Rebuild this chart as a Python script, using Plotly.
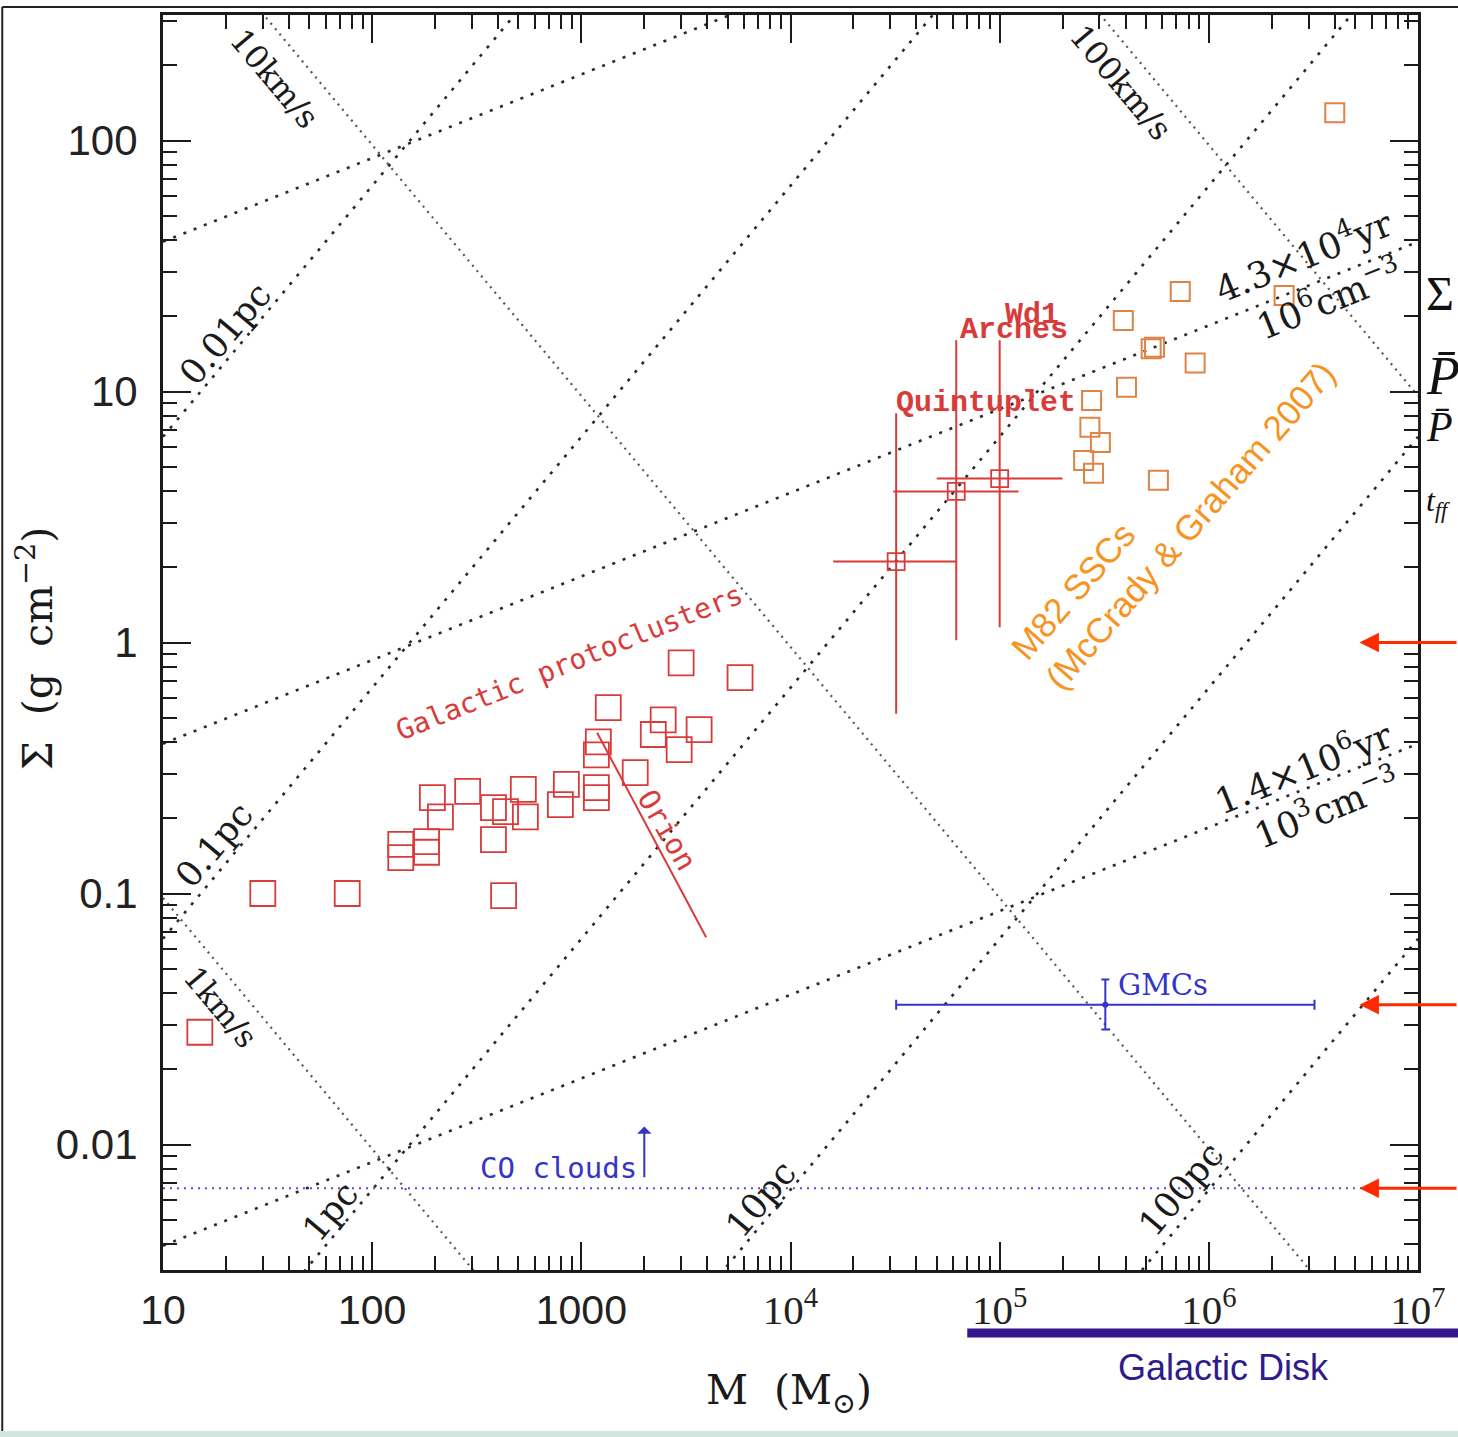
import math
import plotly.graph_objects as go

# ---------------- data ----------------
# Galactic protoclusters: mass (Msun) and mean surface density (g cm^-2)
proto_mass = [15, 30, 76, 425, 137, 137, 182, 182, 194, 212, 286, 380, 380, 434,
              528, 540, 794, 848, 1180, 1180, 1180, 1206, 1345, 1810, 2208, 2462,
              2936, 3657, 3000, 5740]
proto_sigma = [0.028, 0.10, 0.10, 0.098, 0.157, 0.139, 0.161, 0.146, 0.241, 0.202,
               0.255, 0.164, 0.220, 0.212, 0.260, 0.202, 0.226, 0.272, 0.264, 0.241,
               0.357, 0.402, 0.550, 0.303, 0.430, 0.492, 0.374, 0.450, 0.830, 0.724]

# Massive young clusters with their mass / surface-density ranges
yc_names = ["Quintuplet", "Arches", "Wd1"]
yc_mass = [3.2e4, 6.2e4, 1.0e5]
yc_mass_low = [1.6e4, 3.1e4, 5.0e4]
yc_mass_high = [6.2e4, 1.23e5, 2.0e5]
yc_sigma = [2.1, 4.0, 4.5]
yc_sigma_low = [0.52, 1.02, 1.15]
yc_sigma_high = [8.2, 16.0, 16.0]

# M82 super star clusters
m82_mass = [4.0e6, 7.3e5, 3.9e5, 2.29e6, 5.3e5, 5.5e5, 8.6e5, 4.04e5, 2.75e5,
            2.7e5, 3.03e5, 2.52e5, 2.81e5, 5.74e5]
m82_sigma = [129, 25, 19.2, 24.1, 14.8, 15.0, 13.0, 10.4, 9.2, 7.2, 6.27, 5.31,
             4.72, 4.43]

# Giant molecular clouds (typical value and range)
gmc_mass = [3.2e5]
gmc_mass_low = [3.2e4]
gmc_mass_high = [3.2e6]
gmc_sigma = [0.036]
gmc_sigma_low = [0.0287]
gmc_sigma_high = [0.0454]

# CO clouds surface-density level and its lower-limit arrow
co_sigma = 0.0067
co_arrow_mass = 2000
co_arrow_sigma = [0.0073, 0.0118]

# Orion gradient
orion_mass = [1190, 3950]
orion_sigma = [0.437, 0.067]

# Guide lines, given by Sigma at the two ends of the mass range
guide_mass = [10, 1e7]
radius_labels = ["0.01pc", "0.1pc", "1pc", "10pc", "100pc"]
radius_sigma_lo = [6.6, 0.066, 6.6e-4, 6.6e-6, 6.6e-8]
radius_sigma_hi = [6.6e6, 6.6e4, 660, 6.6, 0.066]
velocity_labels = ["1km/s", "10km/s", "100km/s"]
velocity_sigma_lo = [0.096, 960, 9.6e6]
velocity_sigma_hi = [9.6e-8, 9.6e-4, 9.6]
density_sigma_lo = [39.5, 0.395, 0.00395]
density_sigma_hi = [3950, 39.5, 0.395]

# Galactic disk mass range and levels marked on the right
disk_mass_min = 7e4
marker_levels = [1.0, 0.036, 0.0067]

x_tick_vals = [10, 100, 1000, 1e4, 1e5, 1e6, 1e7]
x_tick_text = ["10", "100", "1000",
               "<span style='font-family:Liberation Serif'>10<sup>4</sup></span>",
               "<span style='font-family:Liberation Serif'>10<sup>5</sup></span>",
               "<span style='font-family:Liberation Serif'>10<sup>6</sup></span>",
               "<span style='font-family:Liberation Serif'>10<sup>7</sup></span>"]
y_tick_vals = [0.01, 0.1, 1, 10, 100]
y_tick_text = ["0.01", "0.1", "1", "10", "100"]

# ---------------- geometry ----------------
W, H = 1458, 1437
ML, MR, MT, MB = 163, 38, 15, 167
PW, PH = W - ML - MR, H - MT - MB
X_RANGE = [1, 7]
Y_RANGE = [-2.5, 2.5]


def pxx(xp):
    return (xp - ML) / PW


def pxy(yp):
    return (H - MB - yp) / PH


def mass_to_paper(m):
    return (math.log10(m) - X_RANGE[0]) / (X_RANGE[1] - X_RANGE[0])


minor_x = [d * 10 ** k for k in range(1, 7) for d in range(2, 10)]
minor_y = [d * 10 ** k for k in range(-3, 3) for d in range(2, 10)]

RED = "#D93B3B"
ORANGE_PT = "#DE8447"
BLUE = "#3434C8"
INK = "#1a1a1a"

fig = go.Figure()

# ---------------- guide lines ----------------
for lo, hi in zip(velocity_sigma_lo, velocity_sigma_hi):
    fig.add_trace(go.Scatter(x=guide_mass, y=[lo, hi], mode="lines",
                             line=dict(color="#555555", width=2.2, dash="2px,5px"),
                             hoverinfo="skip", showlegend=False))
for lo, hi in zip(radius_sigma_lo, radius_sigma_hi):
    fig.add_trace(go.Scatter(x=guide_mass, y=[lo, hi], mode="lines",
                             line=dict(color="#2a2a2a", width=2.6, dash="3px,8px"),
                             hoverinfo="skip", showlegend=False))
for lo, hi in zip(density_sigma_lo, density_sigma_hi):
    fig.add_trace(go.Scatter(x=guide_mass, y=[lo, hi], mode="lines",
                             line=dict(color="#2a2a2a", width=2.6, dash="3px,8px"),
                             hoverinfo="skip", showlegend=False))

# CO clouds level
fig.add_trace(go.Scatter(x=guide_mass, y=[co_sigma, co_sigma], mode="lines",
                         line=dict(color="#5050E0", width=2, dash="2px,5px"),
                         hoverinfo="skip", showlegend=False))

# ---------------- data marks ----------------
fig.add_trace(go.Scatter(x=proto_mass, y=proto_sigma, mode="markers",
                         marker=dict(symbol="square-open", size=25, color=RED,
                                     line=dict(width=1.8, color=RED)),
                         showlegend=False))

fig.add_trace(go.Scatter(x=orion_mass, y=orion_sigma, mode="lines",
                         line=dict(color=RED, width=2), showlegend=False))

fig.add_trace(go.Scatter(
    x=yc_mass, y=yc_sigma, mode="markers",
    marker=dict(symbol="square-open", size=17, color=RED, line=dict(width=1.8, color=RED)),
    error_x=dict(type="data", symmetric=False,
                 array=[h - v for h, v in zip(yc_mass_high, yc_mass)],
                 arrayminus=[v - l for v, l in zip(yc_mass, yc_mass_low)],
                 color=RED, thickness=2, width=0),
    error_y=dict(type="data", symmetric=False,
                 array=[h - v for h, v in zip(yc_sigma_high, yc_sigma)],
                 arrayminus=[v - l for v, l in zip(yc_sigma, yc_sigma_low)],
                 color=RED, thickness=2, width=0),
    showlegend=False))

fig.add_trace(go.Scatter(x=m82_mass, y=m82_sigma, mode="markers",
                         marker=dict(symbol="square-open", size=19, color=ORANGE_PT,
                                     line=dict(width=2, color=ORANGE_PT)),
                         showlegend=False))

fig.add_trace(go.Scatter(
    x=gmc_mass, y=gmc_sigma, mode="markers",
    marker=dict(symbol="circle", size=6, color=BLUE),
    error_x=dict(type="data", symmetric=False,
                 array=[gmc_mass_high[0] - gmc_mass[0]],
                 arrayminus=[gmc_mass[0] - gmc_mass_low[0]],
                 color=BLUE, thickness=2, width=5),
    error_y=dict(type="data", symmetric=False,
                 array=[gmc_sigma_high[0] - gmc_sigma[0]],
                 arrayminus=[gmc_sigma[0] - gmc_sigma_low[0]],
                 color=BLUE, thickness=2, width=4),
    showlegend=False))

# ---------------- annotations ----------------
ann = []


def label(xl, yl, text, angle=0, size=30, color=INK, family="DejaVu Serif",
          xanchor="center", yanchor="middle", align="center"):
    ann.append(dict(x=xl, y=yl, xref="x", yref="y", text=text, showarrow=False,
                    textangle=angle, xanchor=xanchor, yanchor=yanchor, align=align,
                    font=dict(family=family, size=size, color=color)))


def paper_text(xp, yp, text, size, family, color=INK, angle=0, xanchor="center"):
    ann.append(dict(x=pxx(xp), y=pxy(yp), xref="paper", yref="paper", text=text,
                    textangle=angle, xanchor=xanchor, yanchor="middle",
                    showarrow=False, font=dict(family=family, size=size, color=color)))


# guide line labels
label(1.535, 2.247, "10km/s", 50, 32)
label(5.582, 2.231, "100km/s", 50, 32)
label(1.277, -1.451, "1km/s", 50, 31)
label(1.296, 1.231, "0.01pc", -50, 35)
label(1.243, -0.805, "0.1pc", -50, 35)
label(1.797, -2.267, "1pc", -50, 35)
label(3.859, -2.219, "10pc", -50, 35)
label(5.869, -2.179, "100pc", -50, 35)
label(6.451, 1.549, "4.3×10<sup>4</sup>yr", -22, 36)
label(6.570, 1.374, "10<sup>6</sup>cm<sup>−3</sup>", -22, 36)
label(6.451, -0.493, "1.4×10<sup>6</sup>yr", -22, 36)
label(6.561, -0.657, "10<sup>3</sup>cm<sup>−3</sup>", -22, 36)

# group labels
label(2.943, -0.080, "Galactic protoclusters", -22, 28, RED, "DejaVu Sans Mono")
label(3.411, -0.745, "Orion", 60, 29, RED, "DejaVu Sans Mono")
label(4.933, 0.956, "<b>" + yc_names[0] + "</b>", 0, 30, RED, "Liberation Mono")
label(5.067, 1.247, "<b>" + yc_names[1] + "</b>", 0, 30, RED, "Liberation Mono")
label(5.153, 1.306, "<b>" + yc_names[2] + "</b>", 0, 30, RED, "Liberation Mono")
label(5.83, 0.526, "M82 SSCs<br>(McCrady &amp; Graham 2007)", -49, 35, "#F7931E",
      "Liberation Sans", align="left")
label(3.277, -2.092, "CO clouds", 0, 29, BLUE, "DejaVu Sans Mono", xanchor="right")
label(5.554, -1.363, "GMCs", 0, 29, BLUE, "DejaVu Serif", xanchor="left")

# CO clouds lower-limit arrow
ann.append(dict(x=math.log10(co_arrow_mass), y=math.log10(co_arrow_sigma[1]),
                ax=math.log10(co_arrow_mass), ay=math.log10(co_arrow_sigma[0]),
                xref="x", yref="y", axref="x", ayref="y", text="", showarrow=True,
                arrowhead=1, arrowsize=1.2, arrowwidth=2, arrowcolor=BLUE))

# red markers on the right edge
for lvl in marker_levels:
    ann.append(dict(x=6.72, y=math.log10(lvl), xref="x", yref="y", ax=115, ay=0,
                    text="", showarrow=True, arrowhead=2, arrowsize=1.3,
                    arrowwidth=3, arrowcolor="#FF2A00"))

# axis titles
paper_text(35, 648, "Σ  (g  cm<sup>−2</sup>)", 41, "DejaVu Serif", angle=-90)
paper_text(790, 1393, "M  (M<sub>⊙</sub>)", 41, "DejaVu Serif")

# Galactic disk label
ann.append(dict(x=6.07, y=pxy(1367), xref="x", yref="paper", text="Galactic Disk",
                xanchor="center", yanchor="middle", showarrow=False,
                font=dict(family="Liberation Sans", size=36, color="#2E1B8E")))

# symbols on the right margin
for yy, txt, sz in [(293, "Σ", 48), (376, "<i>P\u0304</i>", 54),
                    (427, "<i>P\u0304</i>", 42), (502, "<i>t<sub>ff</sub></i>", 32)]:
    paper_text(1426, yy, txt, sz, "Liberation Serif", color="#111", xanchor="left")

# ---------------- shapes ----------------
shapes = [
    # Galactic disk mass range bar
    dict(type="line", xref="paper", yref="paper", x0=mass_to_paper(disk_mass_min),
         x1=pxx(W + 5), y0=pxy(1333), y1=pxy(1333),
         line=dict(color="#34178F", width=9)),
    # slide frame
    dict(type="line", xref="paper", yref="paper", x0=pxx(2), x1=pxx(2),
         y0=pxy(7), y1=pxy(1432), line=dict(color="#222", width=2)),
    dict(type="line", xref="paper", yref="paper", x0=pxx(2), x1=pxx(W + 5),
         y0=pxy(7), y1=pxy(7), line=dict(color="#222", width=2)),
    dict(type="rect", xref="paper", yref="paper", x0=pxx(-5), x1=pxx(W + 5),
         y0=pxy(1431), y1=pxy(H + 5), line=dict(width=0), fillcolor="#CFE7E1"),
]

axis_common = dict(type="log", showgrid=False, zeroline=False, showline=True,
                   linecolor=INK, linewidth=3, mirror="allticks", ticks="inside",
                   ticklen=28, tickwidth=2, tickcolor=INK, tickmode="array")

fig.update_layout(
    width=W, height=H,
    margin=dict(l=ML, r=MR, t=MT, b=MB),
    paper_bgcolor="white", plot_bgcolor="white",
    showlegend=False,
    xaxis=dict(**axis_common, range=X_RANGE, tickvals=x_tick_vals, ticktext=x_tick_text,
               tickfont=dict(family="Liberation Sans", size=41, color="#222"),
               ticklabelstandoff=2,
               minor=dict(ticks="inside", ticklen=14, tickwidth=2, tickcolor=INK,
                          tickvals=minor_x)),
    yaxis=dict(**axis_common, range=Y_RANGE, tickvals=y_tick_vals, ticktext=y_tick_text,
               tickfont=dict(family="Liberation Sans", size=42, color="#222"),
               ticklabelstandoff=14,
               minor=dict(ticks="inside", ticklen=14, tickwidth=2, tickcolor=INK,
                          tickvals=minor_y)),
    annotations=ann,
    shapes=shapes,
)

fig.write_html("out.html")
